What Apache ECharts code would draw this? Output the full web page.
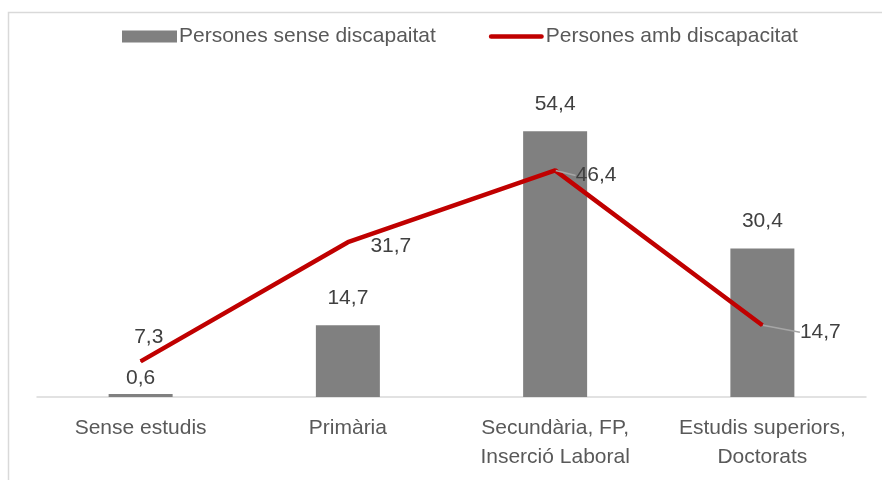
<!DOCTYPE html>
<html>
<head>
<meta charset="utf-8">
<script src="https://cdn.jsdelivr.net/npm/echarts@6/dist/echarts.min.js"></script>
<style>
html, body { margin: 0; padding: 0; background: #fff; }
#chart { width: 882px; height: 480px; }
</style>
</head>
<body>
<div id="chart"></div>
<script>
var categories = ['Sense estudis', 'Primària', 'Secundària, FP,\nInserció Laboral', 'Estudis superiors,\nDoctorats'];
var senseValues = [0.6, 14.7, 54.4, 30.4];
var ambValues = [7.3, 31.7, 46.4, 14.7];
var seriesNames = ['Persones sense discapaitat', 'Persones amb discapacitat'];

var myChart = echarts.init(document.getElementById('chart'), null, {renderer: 'canvas'});
var font = 'Liberation Sans';
var fs = 21;

// label shifts for the red line, relative to 'right' position
var lineShift = [[-12, -24], [17, 4], [15, 5], [32, 7]];

function fmt(p) { return String(p.value).replace('.', ','); }

var option = {
    backgroundColor: '#fff',
    animation: false,
    graphic: [{
        type: 'rect',
        shape: {x: 8.5, y: 12.5, width: 900, height: 500},
        style: {fill: 'none', stroke: '#D9D9D9', lineWidth: 1.5},
        silent: true
    }],
    legend: {
        top: 21,
        left: 117,
        itemWidth: 55,
        itemHeight: 12,
        itemGap: 53,
        textStyle: {fontFamily: font, fontSize: fs, color: '#595959', padding: [0, 0, 0, -3]},
        data: [
            {name: seriesNames[0], icon: 'rect'},
            {name: seriesNames[1], icon: 'path://M2,0 L56,0 A2,2 0 0 1 56,5 L2,5 A2,2 0 0 1 2,0 Z'}
        ]
    },
    grid: {left: 37, right: 16, top: 104, bottom: 83},
    xAxis: {
        type: 'category',
        data: categories,
        axisLine: {lineStyle: {color: '#D9D9D9', width: 1.5}},
        axisTick: {show: false},
        axisLabel: {
            fontFamily: font, fontSize: fs, color: '#595959',
            lineHeight: 29, margin: 17, interval: 0
        }
    },
    yAxis: {
        type: 'value',
        min: 0,
        max: 60,
        show: false,
        splitLine: {show: false}
    },
    series: [
        {
            name: seriesNames[0],
            type: 'bar',
            data: senseValues.map(function (v, i) {
                return i === 0 ? {value: v, label: {offset: [0, 12]}} : v;
            }),
            barWidth: 64,
            itemStyle: {color: '#808080'},
            label: {
                show: true,
                position: 'top',
                distance: 17,
                fontFamily: font,
                fontSize: fs,
                color: '#404040',
                formatter: fmt
            }
        },
        {
            name: seriesNames[1],
            type: 'line',
            data: ambValues.map(function (v, i) {
                return {value: v, labelLine: {show: i >= 2}};
            }),
            symbol: 'circle',
            symbolSize: 1,
            showSymbol: true,
            lineStyle: {color: '#C00000', width: 4.5},
            itemStyle: {color: '#C00000'},
            z: 5,
            label: {
                show: true,
                position: 'right',
                distance: 5,
                fontFamily: font,
                fontSize: fs,
                color: '#404040',
                formatter: fmt
            },
            labelLine: {show: false, lineStyle: {color: '#A6A6A6', width: 1.5}},
            labelLayout: function (p) {
                var s = lineShift[p.dataIndex];
                return {dx: s[0], dy: s[1]};
            }
        }
    ]
};

myChart.setOption(option);
</script>
</body>
</html>
